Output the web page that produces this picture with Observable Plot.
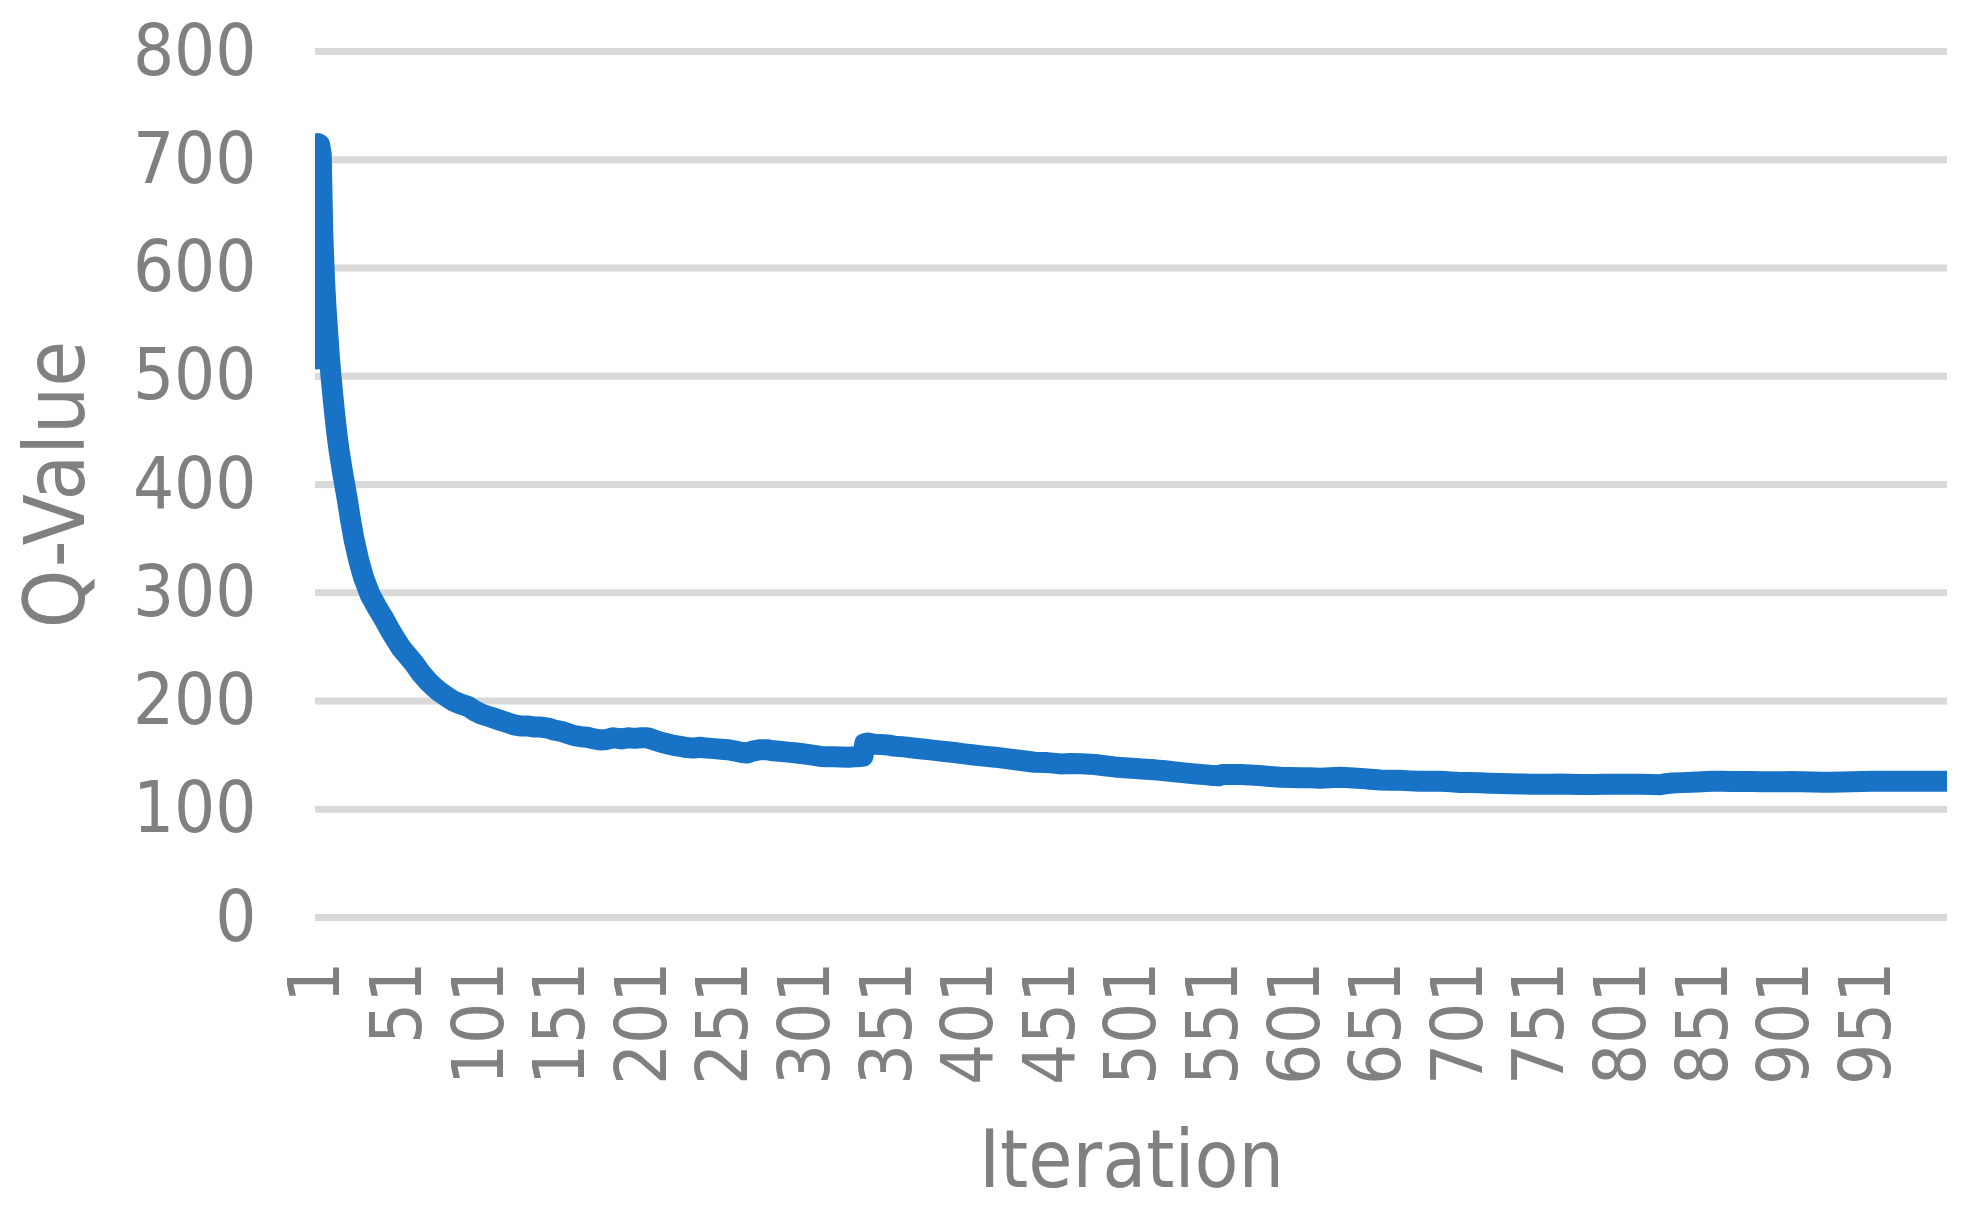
<!DOCTYPE html>
<html>
<head>
<meta charset="utf-8">
<script src="https://cdn.jsdelivr.net/npm/d3@7"></script>
<script src="https://cdn.jsdelivr.net/npm/@observablehq/plot@0.6"></script>
<style>
  html, body { margin: 0; padding: 0; background: #ffffff; }
  #chart svg { display: block; font-stretch: condensed; }
</style>
</head>
<body>
<div id="chart"></div>
<script>
// Iteration numbers at which the curve was read, and the Q-values read there
const iterations = [
  1, 2, 3, 4, 5, 6, 7, 8, 9, 10, 11, 12, 13, 14, 15, 17, 20, 22, 24, 27, 30,
  34, 38, 42, 46, 50, 53, 58, 61, 65, 69, 73, 77, 81, 85, 89, 94, 98, 102, 106, 110,
  114, 118, 122, 126, 130, 134, 138, 143, 147, 151, 155, 159, 163, 167, 171, 175, 179, 183, 188, 192,
  196, 200, 204, 208, 212, 216, 220, 224, 228, 232, 236, 240, 245, 249, 253, 257, 261, 265, 269, 273,
  277, 281, 286, 290, 294, 298, 302, 306, 310, 314, 318, 322, 327, 331, 335, 336, 337, 339, 343, 347,
  351, 355, 360, 368, 374, 380, 386, 392, 398, 404, 410, 417, 425, 433, 441, 449, 457, 463, 470, 478,
  484, 490, 496, 503, 509, 515, 521, 527, 533, 539, 545, 551, 554, 556, 560, 567, 573, 579, 585, 592,
  598, 604, 610, 616, 622, 628, 634, 641, 647, 653, 659, 665, 671, 677, 683, 690, 696, 702, 708, 714,
  720, 727, 733, 739, 745, 751, 757, 763, 769, 776, 784, 790, 795, 801, 807, 813, 820, 824, 828, 832,
  838, 844, 850, 856, 862, 869, 875, 881, 887, 893, 899, 905, 911, 918, 924, 930, 936, 942, 948, 955,
  961, 967, 979, 991, 1000
];
const qValues = [
  516, 715, 714, 705, 630, 590, 562, 540, 518, 500, 484, 469, 455, 442, 431, 412, 386, 367, 350, 330, 314,
  298, 287, 277, 266, 256, 249, 240, 234.5, 226, 219, 213, 208, 204, 200, 197.5, 195, 191, 188, 186, 184,
  182, 180, 178, 177, 177, 176, 176, 175, 173, 172, 170, 168, 167, 166.5, 165, 164, 164.5, 166, 165, 166,
  165.5, 166, 166, 164, 162, 160.5, 159, 158, 157, 156.5, 157.3, 156.5, 156, 155.5, 155, 154, 152.7, 152, 154, 155,
  155, 154, 153.4, 152.8, 152.2, 151.5, 150.7, 149.8, 148.8, 148.6, 148.5, 148.3, 148.1, 148.5, 148.8, 149, 160.5, 161.3, 160, 159.8,
  159.4, 158.3, 157.8, 156.4, 155.4, 154.4, 153.4, 152.4, 151.2, 150.1, 149.1, 148.1, 146.5, 145, 143.4, 143.1, 141.9, 142.2, 142, 141.3,
  140.2, 139.1, 138.3, 137.6, 137, 136.4, 135.5, 134.5, 133.6, 132.7, 132, 131.1, 131, 132, 132.2, 132.2, 131.7, 131.1, 130.3, 129.5,
  129.3, 129.2, 129, 128.7, 129.1, 129.5, 129, 128.5, 127.7, 127, 126.8, 126.7, 126.2, 125.8, 125.8, 125.8, 125.3, 124.8, 124.7, 124.5,
  124.1, 123.8, 123.5, 123.3, 123.2, 123.1, 123.2, 123.3, 123, 122.8, 122.8, 123, 123, 123.1, 123.2, 123, 122.9, 122.6, 123.6, 124.2,
  124.6, 124.9, 125.4, 125.9, 125.8, 125.6, 125.6, 125.6, 125.4, 125.3, 125.4, 125.6, 125.4, 125.2, 125, 124.9, 125.1, 125.3, 125.6, 125.9,
  125.9, 125.9, 125.9, 125.9, 125.9
];
const yTicks = [0, 100, 200, 300, 400, 500, 600, 700, 800];
const xTicks = [1, 51, 101, 151, 201, 251, 301, 351, 401, 451, 501, 551, 601, 651, 701, 751, 801, 851, 901, 951];
const xTitle = ["Iteration"];
const yTitle = ["Q-Value"];

const data = iterations.map((it, i) => ({iteration: it, q: qValues[i]}));

const FONT = '"DejaVu Sans Condensed", "Liberation Sans Narrow", "Liberation Sans", sans-serif';
const GREY = "#808080";

const chart = Plot.plot({
  width: 1987,
  height: 1220,
  marginLeft: 315,
  marginRight: 40,
  marginTop: 51,
  marginBottom: 303,
  style: {fontFamily: FONT, fontSize: "72px", color: GREY, background: "#ffffff", overflow: "visible"},
  x: {type: "linear", domain: [0.5, 1000.5]},
  y: {domain: [0, 800]},
  marks: [
    Plot.gridY(yTicks, {stroke: "#d9d9d9", strokeOpacity: 1, strokeWidth: 7}),
    Plot.axisY(yTicks, {tickSize: 0, tickPadding: 59, label: null, fontSize: 72, fill: GREY}),
    Plot.axisX(xTicks, {tickSize: 0, tickPadding: 44, tickRotate: -90, label: null, fontSize: 72, fill: GREY, tickFormat: d => String(d)}),
    Plot.line(data, {x: "iteration", y: "q", stroke: "#1873c7", strokeWidth: 21, strokeLinejoin: "round", strokeLinecap: "round", clip: true}),
    Plot.text(xTitle, {text: d => d, frameAnchor: "bottom", textAnchor: "middle", lineAnchor: "middle", dy: 244, fontSize: 80, fill: GREY}),
    Plot.text(yTitle, {text: d => d, frameAnchor: "left", textAnchor: "middle", lineAnchor: "middle", dx: -258, rotate: -90, fontSize: 83, fill: GREY})
  ]
});
document.getElementById("chart").appendChild(chart);
</script>
</body>
</html>
